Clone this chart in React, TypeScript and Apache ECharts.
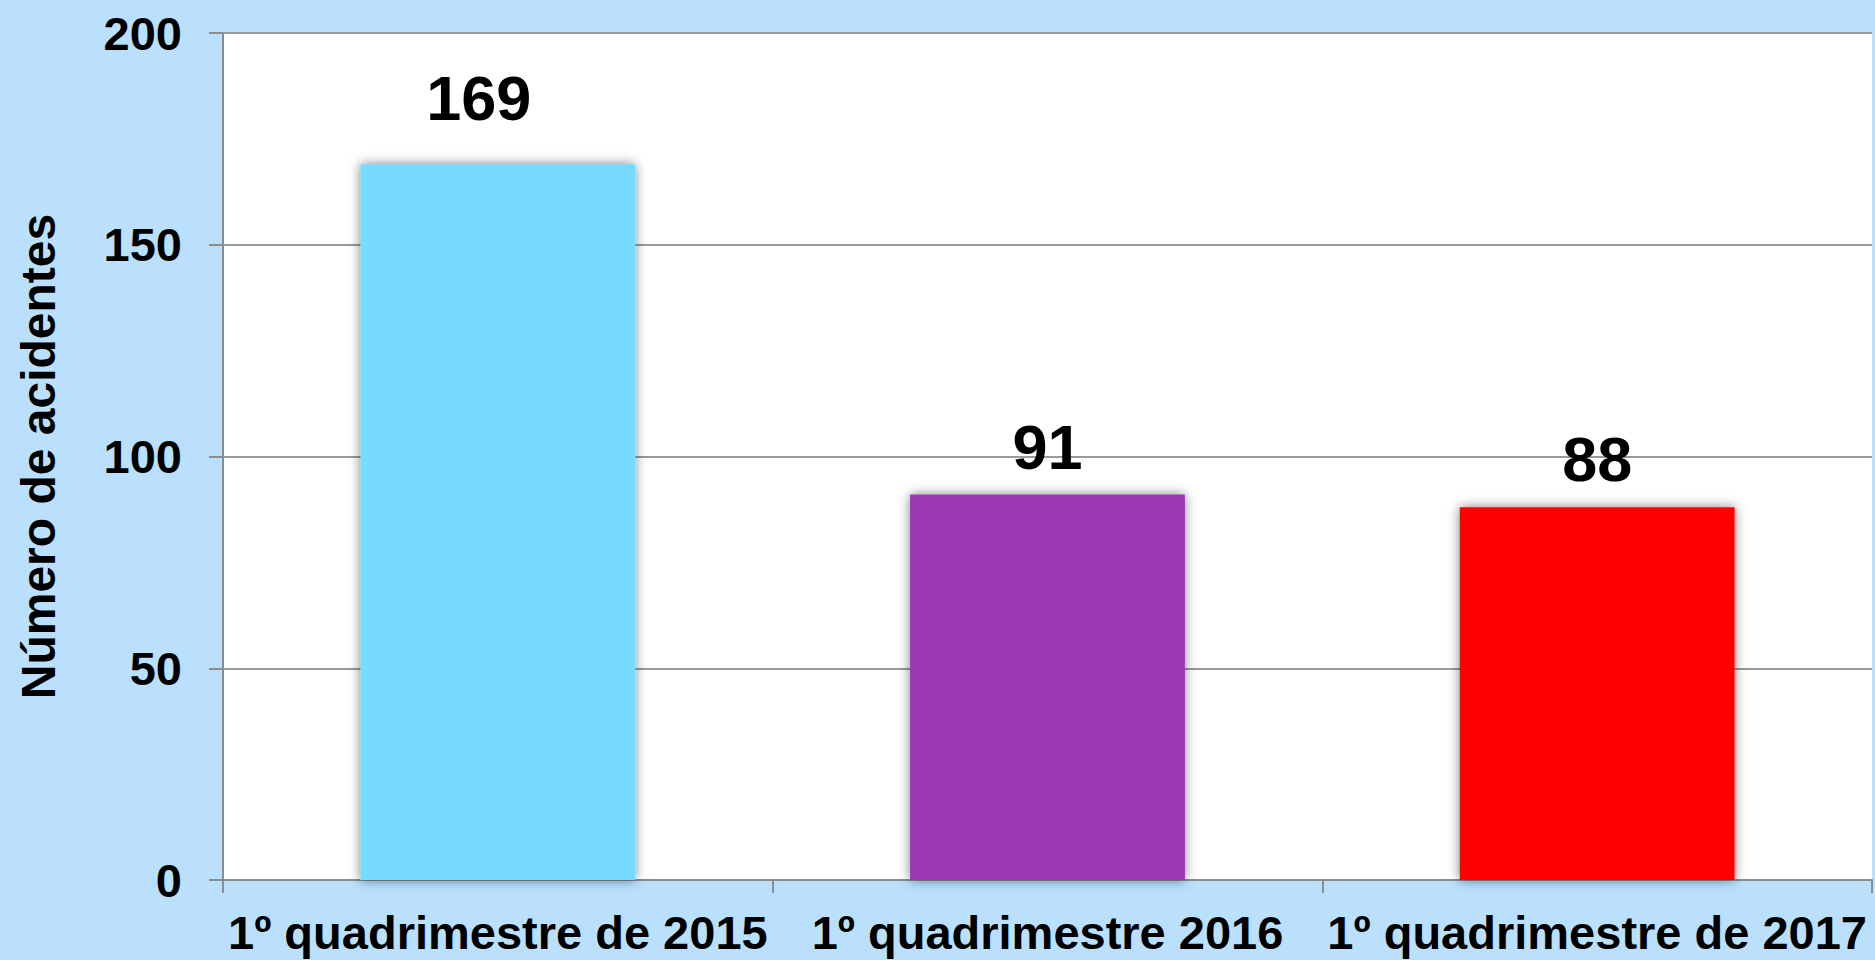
import React, { useEffect, useRef } from "react";
import * as echarts from "echarts";

const categories = ["1º quadrimestre de 2015", "1º quadrimestre 2016", "1º quadrimestre de 2017"];
const accidents = [169, 91, 88];
const barColors = ["#76DBFF", "#9A38B4", "#FF0000"];
const labelDistances = [35, 16, 17];
const labelOffsets = [[-19, 0], [0, 0], [0, 0]];
const yTicks = { min: 0, max: 200, interval: 50 };
const yAxisTitle = "Número de acidentes";

export default function App() {
  const ref = useRef<HTMLDivElement>(null);
  useEffect(() => {
    if (!ref.current) return;
    const chart = echarts.init(ref.current, null, { renderer: "svg" });
    const font = "'Liberation Sans', Arial, sans-serif";
    chart.setOption({
      animation: false,
      backgroundColor: "#BAE0FD",
      grid: {
        left: 223,
        top: 33,
        right: 3,
        bottom: 80,
        show: true,
        backgroundColor: "#FFFFFF",
        borderWidth: 0,
      },
      xAxis: {
        type: "category",
        data: categories,
        boundaryGap: true,
        axisLine: { show: true, lineStyle: { color: "#8C8C8C", width: 2 } },
        axisTick: { show: true, alignWithLabel: false, length: 13, lineStyle: { color: "#8C8C8C", width: 2 } },
        axisLabel: {
          color: "#000",
          fontFamily: font,
          fontWeight: "bold",
          fontSize: 47,
          margin: 29,
          interval: 0,
        },
      },
      yAxis: {
        type: "value",
        min: yTicks.min,
        max: yTicks.max,
        interval: yTicks.interval,
        name: yAxisTitle,
        nameLocation: "middle",
        nameRotate: 90,
        nameGap: 161,
        nameTextStyle: { color: "#000", fontFamily: font, fontWeight: "bold", fontSize: 48 },
        axisLine: { show: true, lineStyle: { color: "#8C8C8C", width: 2 } },
        axisTick: { show: true, length: 14, lineStyle: { color: "#8C8C8C", width: 2 } },
        splitLine: { show: true, lineStyle: { color: "#9A9A9A", width: 2 } },
        axisLabel: {
          color: "#000",
          fontFamily: font,
          fontWeight: "bold",
          fontSize: 47,
          margin: 41,
        },
      },
      series: [
        {
          type: "bar",
          barWidth: "50%",
          data: accidents.map((v, i) => ({
            value: v,
            itemStyle: { color: barColors[i] },
            label: { distance: labelDistances[i], offset: labelOffsets[i] },
          })),
          itemStyle: {
            shadowBlur: 12,
            shadowColor: "rgba(0,0,0,0.5)",
            shadowOffsetX: 0,
            shadowOffsetY: 0,
          },
          label: {
            show: true,
            position: "top",
            color: "#000",
            fontFamily: font,
            fontWeight: "bold",
            fontSize: 63,
          },
        },
      ],
    });
    return () => chart.dispose();
  }, []);
  return (
    <div
      ref={ref}
      style={{ position: "fixed", left: 0, top: 0, width: 1875, height: 960 }}
    />
  );
}
